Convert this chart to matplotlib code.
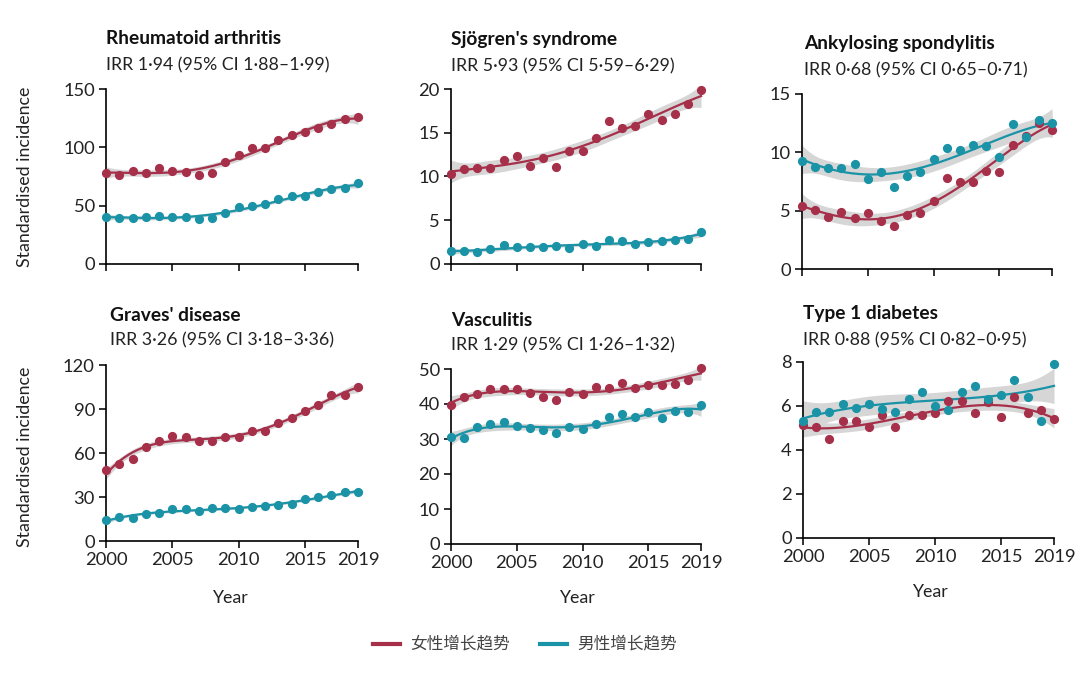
import numpy as np
import matplotlib.pyplot as plt

plt.rcParams['font.family'] = ['Lato', 'DejaVu Sans']

years = np.arange(2000, 2020)

# Rheumatoid arthritis
ra_f = [77.8, 76.4, 80.1, 78.4, 82.1, 79.3, 79.0, 76.4, 77.8, 87.8,
        93.5, 99.2, 99.8, 106.4, 110.6, 112.9, 116.3, 120.0, 124.0, 126.3]
ra_m = [39.9, 39.6, 39.3, 40.2, 41.3, 40.5, 40.5, 38.5, 39.6, 43.6,
        48.5, 49.3, 51.6, 55.9, 58.5, 57.9, 61.3, 64.7, 65.0, 69.3]

# Sjogren's syndrome
sj_f = [10.29, 10.86, 11.01, 11.01, 11.92, 12.38, 11.24, 12.08, 11.05, 12.88,
        12.95, 14.36, 16.34, 15.54, 15.81, 17.10, 16.50, 17.18, 18.25, 19.92]
sj_m = [1.52, 1.45, 1.33, 1.68, 2.21, 1.90, 1.90, 1.90, 2.02, 1.79,
        2.29, 2.06, 2.70, 2.63, 2.32, 2.51, 2.63, 2.74, 2.86, 3.66]

# Ankylosing spondylitis
as_f = [5.36, 5.05, 4.45, 4.85, 4.33, 4.76, 4.13, 3.65, 4.65, 4.79,
        5.87, 7.78, 7.47, 7.47, 8.41, 8.30, 10.61, 11.40, 12.55, 11.92]
as_m = [9.30, 8.73, 8.70, 8.70, 9.01, 7.70, 8.30, 7.07, 7.93, 8.30,
        9.41, 10.41, 10.21, 10.64, 10.52, 9.61, 12.46, 11.35, 12.77, 12.49]

# Graves' disease
gr_f = [48.3, 52.4, 56.2, 63.8, 68.3, 71.9, 71.0, 67.9, 67.9, 71.0,
        71.0, 75.1, 75.1, 80.6, 83.8, 88.8, 92.7, 99.7, 99.7, 104.7]
gr_m = [14.3, 16.2, 15.7, 18.2, 19.4, 21.6, 21.6, 20.3, 22.3, 22.3,
        21.6, 23.5, 23.9, 24.4, 25.5, 28.5, 30.1, 31.4, 33.2, 33.2]

# Vasculitis
va_f = [39.7, 42.0, 43.0, 44.4, 44.3, 44.3, 43.1, 42.1, 41.2, 43.3,
        42.8, 45.0, 44.6, 46.0, 44.6, 45.4, 45.4, 45.7, 47.0, 50.2]
va_m = [30.5, 30.3, 33.3, 34.3, 34.9, 33.6, 33.2, 32.5, 31.8, 33.4,
        32.9, 34.2, 36.2, 37.1, 36.2, 37.8, 35.9, 38.1, 37.7, 39.6]

# Type 1 diabetes
t1_f = [5.12, 5.03, 4.52, 5.30, 5.30, 5.03, 5.58, 5.03, 5.61, 5.61,
        5.68, 6.21, 6.21, 5.70, 6.18, 5.50, 6.41, 5.70, 5.80, 5.39]
t1_m = [5.30, 5.71, 5.71, 6.11, 5.89, 6.11, 5.86, 5.71, 6.32, 6.62,
        6.00, 5.80, 6.62, 6.91, 6.30, 6.50, 7.20, 6.41, 5.30, 7.89]

titles = ["Rheumatoid arthritis", "Sjögren's syndrome", "Ankylosing spondylitis",
          "Graves' disease", "Vasculitis", "Type 1 diabetes"]
irr = ["IRR 1·94 (95% CI 1·88–1·99)", "IRR 5·93 (95% CI 5·59–6·29)",
       "IRR 0·68 (95% CI 0·65–0·71)", "IRR 3·26 (95% CI 3·18–3·36)",
       "IRR 1·29 (95% CI 1·26–1·32)", "IRR 0·88 (95% CI 0·82–0·95)"]
female = [ra_f, sj_f, as_f, gr_f, va_f, t1_f]
male = [ra_m, sj_m, as_m, gr_m, va_m, t1_m]
yticks = [[0, 50, 100, 150], [0, 5, 10, 15, 20], [0, 5, 10, 15],
          [0, 30, 60, 90, 120], [0, 10, 20, 30, 40, 50], [0, 2, 4, 6, 8]]
xticks = [2000, 2005, 2010, 2015, 2019]
legend_labels = ["女性增长趋势", "男性增长趋势"]
degs = [4, 4, 4, 4, 4, 3]

RED = "#a6304a"
TEAL = "#1b93a7"
BAND = "#d6d6d6"

W, H = 1080, 695

# axes boxes in pixels: left, right, top, bottom
boxes = [(106, 358, 89, 264), (451, 701, 89, 264), (802, 1052, 94, 269),
         (106, 358, 365, 541), (451, 701, 369, 544), (803, 1054, 362, 538)]
# title positions in pixels: x, title y, irr y
title_pos = [(106, 38, 65), (451, 39, 66), (804, 44, 70),
             (110, 315, 340), (451, 320, 345), (803, 313, 340)]


def trend(x, y, deg):
    # polynomial trend with 95% confidence band
    xc = (np.asarray(x) - 2009.5) / 10.0
    y = np.asarray(y, dtype=float)
    V = np.vander(xc, deg + 1)
    beta, *_ = np.linalg.lstsq(V, y, rcond=None)
    res = y - V @ beta
    s2 = res @ res / (len(y) - deg - 1)
    covb = s2 * np.linalg.inv(V.T @ V)
    xg = np.linspace(x[0], x[-1], 200)
    G = np.vander((xg - 2009.5) / 10.0, deg + 1)
    fit = G @ beta
    se = np.sqrt(np.sum((G @ covb) * G, axis=1))
    return xg, fit, fit - 1.96 * se, fit + 1.96 * se


fig = plt.figure(figsize=(W / 100, H / 100), dpi=100)
fig.patch.set_facecolor("white")

for i in range(6):
    l, r, t, b = boxes[i]
    ax = fig.add_axes([l / W, 1 - b / H, (r - l) / W, (b - t) / H])
    fits = [trend(years, y, degs[i]) for y in (female[i], male[i])]
    for xg, fit, lo, hi in fits:
        ax.fill_between(xg, lo, hi, color=BAND, lw=0, zorder=1)
    for (xg, fit, lo, hi), y, c in zip(fits, (female[i], male[i]), (RED, TEAL)):
        ax.plot(xg, fit, color=c, lw=1.6, zorder=3, clip_on=False)
        ax.scatter(years, y, s=44, color=c, lw=0, zorder=4, clip_on=False)

    ax.set_xlim(2000, 2019)
    ax.set_ylim(yticks[i][0], yticks[i][-1])
    ax.set_xticks(xticks)
    ax.set_yticks(yticks[i])
    if i < 3:
        ax.set_xticklabels([])
    ax.spines["top"].set_visible(False)
    ax.spines["right"].set_visible(False)
    for s in ["left", "bottom"]:
        ax.spines[s].set_linewidth(1.2)
    ax.tick_params(direction="out", length=5, width=1.2, labelsize=13.2,
                   colors="#111111", labelcolor="#222222", pad=3)
    ax.set_facecolor("none")

    tx, ty, iy = title_pos[i]
    fig.text(tx / W, 1 - ty / H, titles[i], fontsize=13.8, fontweight="bold",
             ha="left", va="center", color="#111111")
    fig.text(tx / W, 1 - iy / H, irr[i], fontsize=12.8,
             ha="left", va="center", color="#222222")

# axis labels
for yc in (177, 457):
    fig.text(25 / W, 1 - yc / H, "Standardised incidence", rotation=90,
             fontsize=12.8, ha="center", va="center", color="#222222")
for xc, yc in ((230, 598), (577, 598), (930, 592)):
    fig.text(xc / W, 1 - yc / H, "Year", fontsize=12.8,
             ha="center", va="center", color="#222222")

# legend
for (x0, x1, xt), c, lab in zip(((373, 400, 410), (540, 567, 577)),
                                (RED, TEAL), legend_labels):
    fig.add_artist(plt.Line2D([x0 / W, x1 / W], [1 - 644 / H, 1 - 644 / H],
                              color=c, lw=3, transform=fig.transFigure))
    fig.text(xt / W, 1 - 644 / H, lab, fontsize=12, ha="left", va="center",
             color="#444444", family=["Noto Sans CJK SC", "DejaVu Sans"])

plt.savefig("out.png", dpi=100, facecolor="white")
